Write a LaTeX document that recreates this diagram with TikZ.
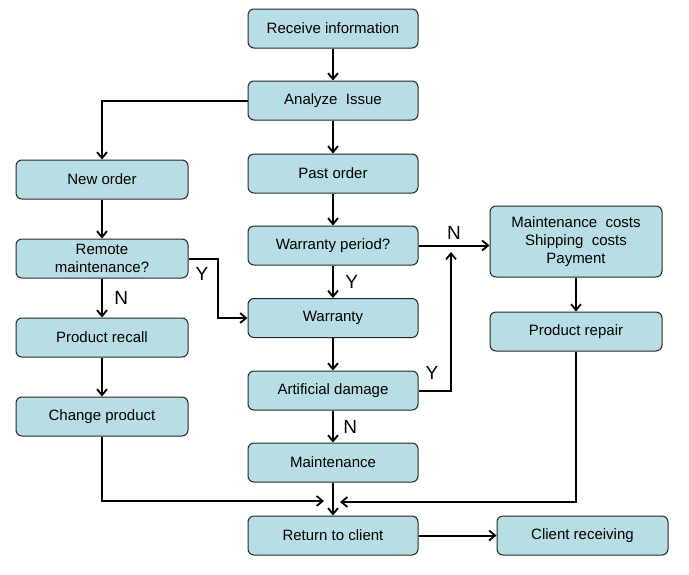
\documentclass[tikz,border=0pt]{standalone}
\usepackage{fontspec}
\setmainfont{Liberation Sans}
\usetikzlibrary{arrows.meta}
\definecolor{boxfill}{RGB}{183,222,228}
\begin{document}
\begin{tikzpicture}[x=1pt,y=-1pt,
  box/.style={draw=black!85,line width=1pt,fill=boxfill,rounded corners=6pt,minimum width=170pt,minimum height=39pt,inner sep=1pt,align=center,font=\fontsize{15}{18}\selectfont},
  conn/.style={line width=2pt,-{Straight Barb[length=6pt,width=10pt,line width=1.8pt]}},
  lbl/.style={font=\fontsize{19}{20}\selectfont}]
\useasboundingbox (0,0) rectangle (689,574);
\node[box] (recv) at (333,28.5) {Receive information};
\node[box] (anal) at (333,100.5) {Analyze\ \ Issue};
\node[box] (past) at (333,173.5) {Past order};
\node[box] (wper) at (333,245.5) {Warranty period?};
\node[box] (warr) at (333,318) {Warranty};
\node[box] (art) at (333,390.5) {Artificial damage};
\node[box] (main) at (333,462.5) {Maintenance};
\node[box] (ret) at (333,535.5) {Return to client};
\node[box,minimum width=172pt] (new) at (102,179.5) {New order};
\node[box,minimum width=172pt] (rem) at (102,258.5) {Remote\\maintenance?};
\node[box,minimum width=172pt] (rec) at (102,337.5) {Product recall};
\node[box,minimum width=172pt] (chg) at (102,416.5) {Change product};
\node[box,minimum width=172pt,minimum height=71pt] (cost) at (576,241.5) {Maintenance\ \ costs\\Shipping\ \ costs\\Payment};
\node[box,minimum width=172pt] (rep) at (576,331.5) {Product repair};
\node[box,minimum width=171pt] (cli) at (582.5,535.5) {Client receiving};
\coordinate (m1) at (340,502);
\coordinate (m2) at (324,501);
\coordinate (up) at (451,252);
\draw[conn] (recv) -- (anal);
\draw[conn] (anal.west) -| (new.north);
\draw[conn] (anal) -- (past);
\draw[conn] (past) -- (wper);
\draw[conn] (wper.east) -- (wper.east -| cost.west) node[lbl,pos=0.5,above=2pt] {N};
\draw[conn] (wper) -- (warr) node[lbl,midway,right=8pt] {Y};
\draw[conn] (new) -- (rem);
\draw[conn] (rem) -- (rec) node[lbl,midway,right=8pt] {N};
\draw[conn] (rec) -- (chg);
\draw[conn] (rem.east) -- ++(29,0) |- (warr.west);
\node[lbl] (ylab) at (202,274) {Y};
\draw[conn] (warr) -- (art);
\draw[conn] (art.east) -| (up);
\node[lbl] (ylab2) at (432,373) {Y};
\draw[conn] (art) -- (main) node[lbl,midway,right=6pt] {N};
\draw[conn] (main) -- (ret);
\draw[conn] (chg.south) |- (m2);
\draw[conn] (rep.south) |- (m1);
\draw[conn] (ret) -- (cli);
\draw[conn] (cost) -- (rep);
\end{tikzpicture}
\end{document}
